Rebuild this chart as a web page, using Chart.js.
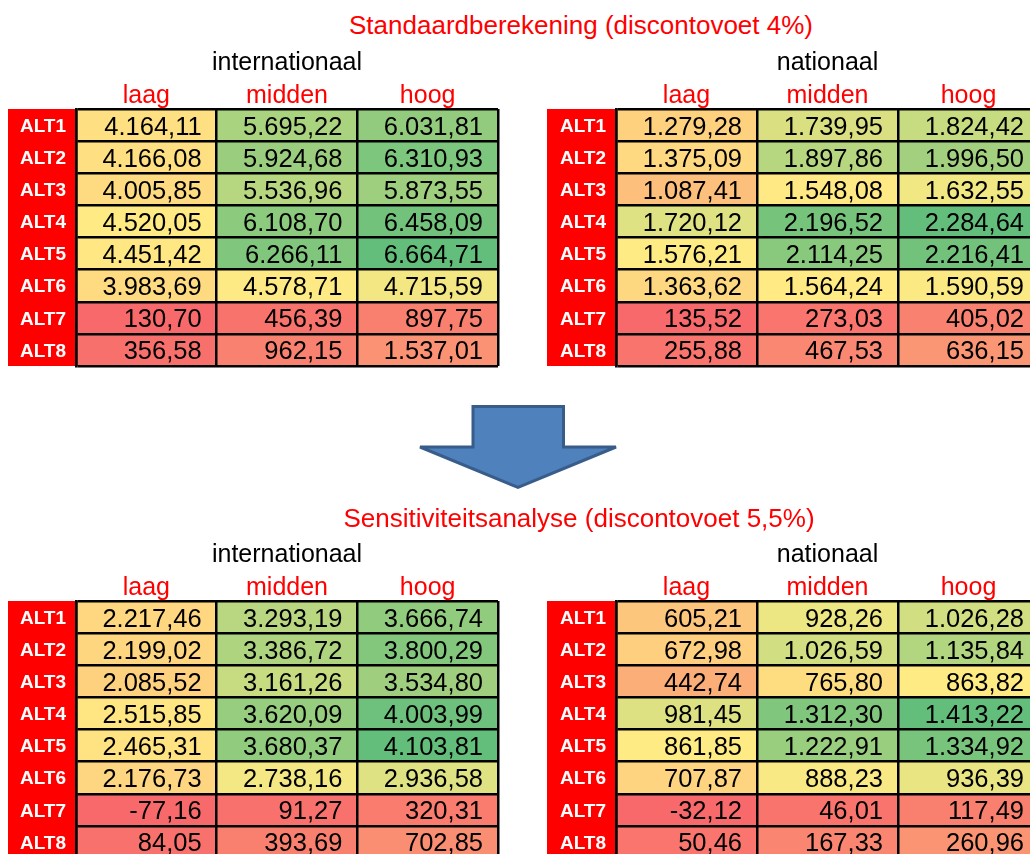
<!DOCTYPE html>
<html>
<head>
<meta charset="utf-8">
<script src="https://cdn.jsdelivr.net/npm/chart.js@4.4.1/dist/chart.umd.min.js"></script>
<style>
  body {
    margin: 0;
    width: 1030px;
    height: 854px;
    overflow: hidden;
    background: #fff;
    position: relative;
    font-family: "Liberation Sans", Arial, sans-serif;
  }
  .block-title {
    position: absolute;
    left: 0;
    text-align: center;
    color: #ff0000;
    font-size: 26px;
    line-height: 25px;
    white-space: nowrap;
  }
  canvas { position: absolute; }
</style>
</head>
<body>

<div class="block-title" style="top:13px;width:1162px">Standaardberekening (discontovoet 4%)</div>
<canvas id="stdInt" width="493" height="322" style="left:8px;top:47px"></canvas>
<canvas id="stdNat" width="495" height="322" style="left:547px;top:47px"></canvas>

<svg style="position:absolute;left:0;top:0" width="1030" height="854">
  <polygon points="473,406.5 563.5,406.5 563.5,447 616,447 518,487.5 420,447 473,447"
           fill="#4f81bd" stroke="#385d8a" stroke-width="3" />
</svg>

<div class="block-title" style="top:506px;width:1158px">Sensitiviteitsanalyse (discontovoet 5,5%)</div>
<canvas id="sensInt" width="493" height="322" style="left:8px;top:539px"></canvas>
<canvas id="sensNat" width="495" height="322" style="left:547px;top:539px"></canvas>

<script>
// categories
const alts = ['ALT1', 'ALT2', 'ALT3', 'ALT4', 'ALT5', 'ALT6', 'ALT7', 'ALT8'];
const cols = ['laag', 'midden', 'hoog'];

// standaardberekening (4%)
const stdInternationaal = [
  [4164.11, 5695.22, 6031.81],
  [4166.08, 5924.68, 6310.93],
  [4005.85, 5536.96, 5873.55],
  [4520.05, 6108.70, 6458.09],
  [4451.42, 6266.11, 6664.71],
  [3983.69, 4578.71, 4715.59],
  [130.70, 456.39, 897.75],
  [356.58, 962.15, 1537.01]
];
const stdNationaal = [
  [1279.28, 1739.95, 1824.42],
  [1375.09, 1897.86, 1996.50],
  [1087.41, 1548.08, 1632.55],
  [1720.12, 2196.52, 2284.64],
  [1576.21, 2114.25, 2216.41],
  [1363.62, 1564.24, 1590.59],
  [135.52, 273.03, 405.02],
  [255.88, 467.53, 636.15]
];

// sensitiviteitsanalyse (5,5%)
const sensInternationaal = [
  [2217.46, 3293.19, 3666.74],
  [2199.02, 3386.72, 3800.29],
  [2085.52, 3161.26, 3534.80],
  [2515.85, 3620.09, 4003.99],
  [2465.31, 3680.37, 4103.81],
  [2176.73, 2738.16, 2936.58],
  [-77.16, 91.27, 320.31],
  [84.05, 393.69, 702.85]
];
const sensNationaal = [
  [605.21, 928.26, 1026.28],
  [672.98, 1026.59, 1135.84],
  [442.74, 765.80, 863.82],
  [981.45, 1312.30, 1413.22],
  [861.85, 1222.91, 1334.92],
  [707.87, 888.23, 936.39],
  [-32.12, 46.01, 117.49],
  [50.46, 167.33, 260.96]
];

const FONT = '"Liberation Sans", Arial, sans-serif';

// excel style 3-colour scale: min red, 50th percentile yellow, max green
const LOW = [248, 105, 107], MID = [255, 235, 132], HIGH = [99, 190, 123];

function colourStops(rows) {
  const v = rows.flat().sort((a, b) => a - b);
  const r = (v.length - 1) * 0.5, lo = Math.floor(r), hi = Math.ceil(r);
  return { min: v[0], mid: v[lo] + (v[hi] - v[lo]) * (r - lo), max: v[v.length - 1] };
}

function mix(a, b, t) {
  return 'rgb(' + a.map((c, i) => Math.round(c + (b[i] - c) * t)).join(',') + ')';
}

function cellColour(v, s) {
  if (v <= s.mid) return mix(LOW, MID, (v - s.min) / (s.mid - s.min));
  return mix(MID, HIGH, (v - s.mid) / (s.max - s.mid));
}

// 4164.11 -> "4.164,11"
function fmt(v) {
  const parts = Math.abs(v).toFixed(2).split('.');
  const int = parts[0].replace(/\B(?=(\d{3})+(?!\d))/g, '.');
  return (v < 0 ? '-' : '') + int + ',' + parts[1];
}

function makeTable(id, rows, side, labelWidth) {
  const stops = colourStops(rows);

  // red block behind the ALT labels
  const labelColumn = {
    id: 'labelColumn',
    beforeDraw(chart) {
      const { ctx, chartArea: a, scales: { y } } = chart;
      ctx.save();
      ctx.fillStyle = '#ff0000';
      ctx.fillRect(y.left, a.top, a.left - 1 - y.left, a.bottom - a.top);
      ctx.restore();
    }
  };

  // numbers inside the cells, right aligned
  const cellValues = {
    id: 'cellValues',
    afterDraw(chart) {
      const ctx = chart.ctx;
      ctx.save();
      ctx.font = '25.5px ' + FONT;
      ctx.fillStyle = '#000';
      ctx.textAlign = 'right';
      ctx.textBaseline = 'alphabetic';
      cols.forEach((c, ci) => {
        chart.getDatasetMeta(ci).data.forEach((bar, i) => {
          const right = Math.max(bar.x, bar.base);
          ctx.fillText(fmt(rows[i][ci]), right - 15, bar.y + 9.5);
        });
      });
      ctx.restore();
    }
  };

  return new Chart(document.getElementById(id), {
    type: 'bar',
    data: {
      labels: alts,
      datasets: cols.map((c, ci) => ({
        label: c,
        data: rows.map(() => [ci, ci + 1]),
        backgroundColor: rows.map(r => cellColour(r[ci], stops)),
        borderWidth: 0,
        grouped: false,
        barPercentage: 1,
        categoryPercentage: 1,
        xAxisID: 'x',
        yAxisID: 'y'
      }))
    },
    options: {
      indexAxis: 'y',
      responsive: false,
      animation: false,
      events: [],
      layout: { padding: { top: 0, left: 0, right: 3, bottom: 3 } },
      plugins: {
        legend: { display: false },
        tooltip: { enabled: false }
      },
      scales: {
        x: {
          type: 'linear',
          min: 0,
          max: 3,
          z: 1,
          ticks: { display: false, stepSize: 1 },
          grid: { z: 1, color: '#000', lineWidth: 2.5, drawTicks: false },
          border: { display: false },
          afterFit(s) {
            s.height = 0;
            s.paddingLeft = s.paddingRight = 0;
          }
        },
        x2: {
          type: 'category',
          position: 'top',
          labels: cols,
          offset: true,
          grid: { display: false, drawTicks: false },
          border: { display: false },
          ticks: {
            color: '#ff0000',
            padding: 0,
            font: { family: FONT, size: 25, lineHeight: 1 }
          },
          title: {
            display: true,
            text: side,
            color: '#000',
            padding: { top: 1, bottom: 0 },
            font: { family: FONT, size: 25 }
          },
          afterFit(s) {
            s.height = 62;
            s.paddingLeft = s.paddingRight = 0;
          }
        },
        y: {
          type: 'category',
          offset: true,
          z: 1,
          grid: { z: 1, offset: true, color: '#000', lineWidth: 2.5, drawTicks: false },
          border: { display: true, z: 1, color: '#000', width: 2.5 },
          ticks: {
            color: '#fff',
            padding: 10,
            labelOffset: 1.5,
            crossAlign: 'center',
            font: { family: FONT, size: 19, weight: 'bold' }
          },
          afterFit(s) {
            s.width = labelWidth;
            s.paddingTop = s.paddingBottom = 0;
          }
        }
      }
    },
    plugins: [labelColumn, cellValues]
  });
}

makeTable('stdInt', stdInternationaal, 'internationaal', 68);
makeTable('stdNat', stdNationaal, 'nationaal', 69);
makeTable('sensInt', sensInternationaal, 'internationaal', 68);
makeTable('sensNat', sensNationaal, 'nationaal', 69);
</script>
</body>
</html>
